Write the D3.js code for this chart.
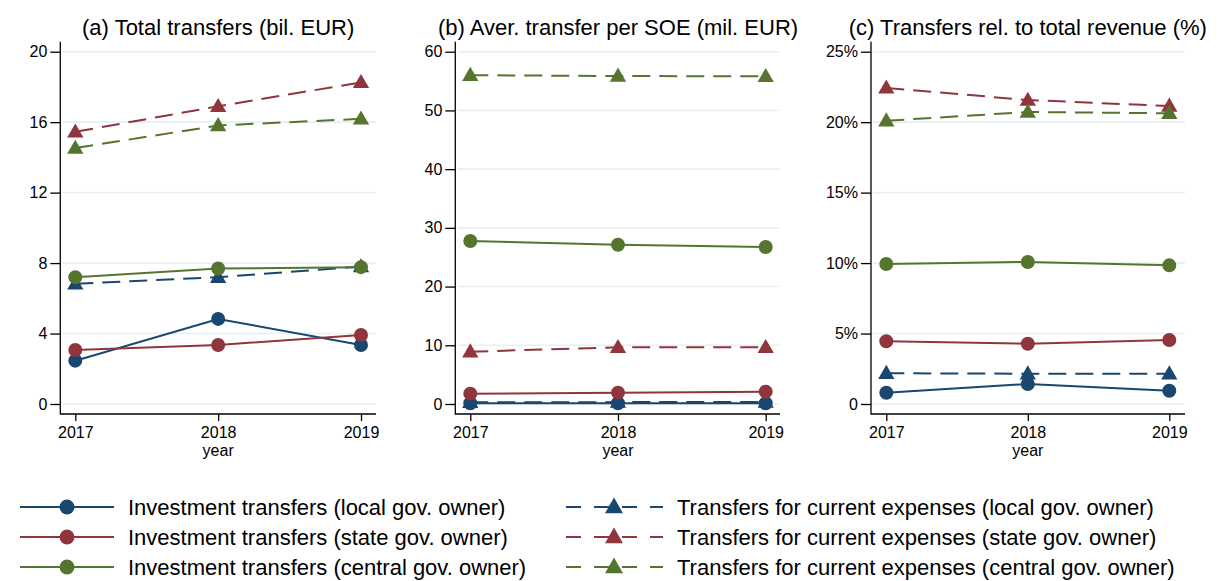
<!DOCTYPE html>
<html>
<head>
<meta charset="utf-8">
<script src="https://cdn.jsdelivr.net/npm/d3@7"></script>
<style>
  body { margin: 0; background: #fff; }
  svg { display: block; font-family: "Liberation Sans", Arial, sans-serif; }
</style>
</head>
<body>
<svg id="chart" width="1224" height="581"></svg>
<script>
// data
const years = [2017, 2018, 2019];

const seriesLabels = [
  'Investment transfers (local gov. owner)',
  'Investment transfers (state gov. owner)',
  'Investment transfers (central gov. owner)',
  'Transfers for current expenses (local gov. owner)',
  'Transfers for current expenses (state gov. owner)',
  'Transfers for current expenses (central gov. owner)'
];

const panelTitles = [
  '(a) Total transfers (bil. EUR)',
  '(b) Aver. transfer per SOE (mil. EUR)',
  '(c) Transfers rel. to total revenue (%)'
];

// same order as seriesLabels
const totalValues = [
  [2.46, 4.83, 3.35],
  [3.07, 3.35, 3.92],
  [7.20, 7.69, 7.77],
  [6.82, 7.20, 7.80],
  [15.45, 16.90, 18.26],
  [14.53, 15.81, 16.19]
];
const averValues = [
  [0.12, 0.14, 0.13],
  [1.76, 1.93, 2.10],
  [27.76, 27.13, 26.74],
  [0.30, 0.32, 0.33],
  [8.91, 9.65, 9.65],
  [56.00, 55.86, 55.80]
];
const shareValues = [
  [0.80, 1.42, 0.94],
  [4.45, 4.28, 4.54],
  [9.94, 10.08, 9.84],
  [2.18, 2.15, 2.15],
  [22.43, 21.57, 21.15],
  [20.10, 20.72, 20.63]
];

const totalTicks = [0, 4, 8, 12, 16, 20];
const averTicks = [0, 10, 20, 30, 40, 50, 60];
const shareTicks = [0, 5, 10, 15, 20, 25];
const shareTickLabels = ['0', '5%', '10%', '15%', '20%', '25%'];

// styling
const colors = ['#1a476f', '#90353b', '#55752f'];
const seriesStyle = seriesLabels.map((name, i) => ({
  name,
  color: colors[i % 3],
  dashed: i >= 3,
  symbol: i >= 3 ? d3.symbolTriangle : d3.symbolCircle
}));

const panels = [
  { title: panelTitles[0], values: totalValues, ticks: totalTicks, labels: totalTicks.map(String),
    left: 60.3, right: 376, x0: 75.3, x1: 361 },
  { title: panelTitles[1], values: averValues, ticks: averTicks, labels: averTicks.map(String),
    left: 455.3, right: 780, x0: 470.3, x1: 765.7 },
  { title: panelTitles[2], values: shareValues, ticks: shareTicks, labels: shareTickLabels,
    left: 871, right: 1185, x0: 886.3, x1: 1169.3 }
];

const svg = d3.select('#chart');
const yTop = 51.7, yZero = 404, axisTop = 41.7, axisBottom = 414;

panels.forEach(p => {
  const g = svg.append('g');
  const x = d3.scaleLinear().domain([years[0], years[years.length - 1]]).range([p.x0, p.x1]);
  const y = d3.scaleLinear().domain([0, p.ticks[p.ticks.length - 1]]).range([yZero, yTop]);

  // grid
  g.append('g').selectAll('line')
    .data(p.ticks)
    .enter().append('line')
    .attr('x1', p.left + 2).attr('x2', p.right)
    .attr('y1', d => y(d)).attr('y2', d => y(d))
    .attr('stroke', '#e6eff1')
    .attr('stroke-width', 1.6);

  // axes
  const yAxis = d3.axisLeft(y).tickValues(p.ticks)
    .tickFormat((d, i) => p.labels[i]).tickSize(10).tickPadding(3);
  const ya = g.append('g').attr('transform', `translate(${p.left},0)`).call(yAxis);
  ya.select('.domain').remove();

  const xAxis = d3.axisBottom(x).tickValues(years).tickFormat(d3.format('d'))
    .tickSize(7).tickPadding(6);
  const xa = g.append('g').attr('transform', `translate(0,${axisBottom})`).call(xAxis);
  xa.select('.domain').remove();

  [ya, xa].forEach(a => {
    a.selectAll('text').attr('font-size', 16).attr('fill', '#000').attr('font-family', null);
    a.selectAll('line').attr('stroke', '#000').attr('stroke-width', 1.3);
  });

  g.append('line').attr('x1', p.left).attr('x2', p.left)
    .attr('y1', axisTop).attr('y2', axisBottom + 0.6)
    .attr('stroke', '#000').attr('stroke-width', 1.3);
  g.append('line').attr('x1', p.left).attr('x2', p.right)
    .attr('y1', axisBottom).attr('y2', axisBottom)
    .attr('stroke', '#000').attr('stroke-width', 1.3);

  g.append('text')
    .attr('x', x(2018)).attr('y', 456)
    .attr('text-anchor', 'middle').attr('font-size', 16)
    .text('year');

  g.append('text')
    .attr('x', x(2018)).attr('y', 35)
    .attr('text-anchor', 'middle').attr('font-size', 22)
    .text(p.title);

  // dashed series first, solid ones on top
  const order = [3, 4, 5, 0, 1, 2];
  const line = d3.line().x((d, i) => x(years[i])).y(d => y(d));
  order.forEach(si => {
    const s = seriesStyle[si];
    const vals = p.values[si];
    g.append('path')
      .datum(vals)
      .attr('d', line)
      .attr('fill', 'none')
      .attr('stroke', s.color)
      .attr('stroke-width', 2)
      .attr('stroke-dasharray', s.dashed ? '18,9' : null);
    g.append('g').selectAll('path')
      .data(vals)
      .enter().append('path')
      .attr('d', d3.symbol(s.symbol, s.dashed ? 115 : 154)())
      .attr('transform', (d, i) => `translate(${x(years[i])},${y(d) + (s.dashed ? 1 : 0)})`)
      .attr('fill', s.color);
  });
});

// legend
const legendRows = [507, 537, 567];
const legendCols = [
  { x1: 20, x2: 114, mx: 67, tx: 128 },
  { x1: 566, x2: 663, mx: 614, tx: 677 }
];
const legend = svg.append('g');
seriesStyle.forEach((s, i) => {
  const col = legendCols[s.dashed ? 1 : 0];
  const ry = legendRows[i % 3];
  const item = legend.append('g');
  item.append('line')
    .attr('x1', col.x1).attr('x2', col.x2)
    .attr('y1', ry).attr('y2', ry)
    .attr('stroke', s.color).attr('stroke-width', 2.2)
    .attr('stroke-dasharray', s.dashed ? '15,13' : null);
  item.append('path')
    .attr('d', d3.symbol(s.symbol, s.dashed ? 140 : 175)())
    .attr('transform', `translate(${col.mx},${ry + (s.dashed ? 1 : 0)})`)
    .attr('fill', s.color);
  item.append('text')
    .attr('x', col.tx).attr('y', ry)
    .attr('dy', '0.36em')
    .attr('font-size', 22)
    .attr('fill', '#000')
    .text(s.name);
});
</script>
</body>
</html>
